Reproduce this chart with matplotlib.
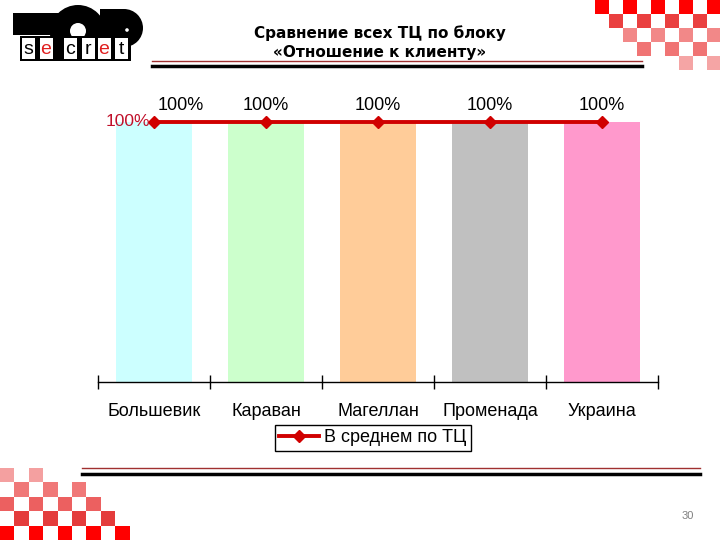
import numpy as np
import matplotlib.pyplot as plt
import matplotlib.patches as mpatches

plt.rcParams['font.family'] = ['Liberation Sans', 'DejaVu Sans']

categories = ['Большевик', 'Караван', 'Магеллан', 'Променада', 'Украина']
bar_values = [1.0, 1.0, 1.0, 1.0, 1.0]
avg_values = [1.0, 1.0, 1.0, 1.0, 1.0]
bar_colors = ['#CCFFFF', '#CCFFCC', '#FFCC99', '#C0C0C0', '#FF99CC']
title_lines = ['Сравнение всех ТЦ по блоку', '«Отношение к клиенту»']
legend_label = 'В среднем по ТЦ'
page_number = '30'

fig = plt.figure(figsize=(7.2, 5.4), dpi=100)

# decoration layer in pixel coords (y down)
deco = fig.add_axes([0, 0, 1, 1])
deco.set_xlim(0, 720)
deco.set_ylim(540, 0)
deco.axis('off')

def checker(x0, y0, size, rows):
    for r, cols, col in rows:
        for c in cols:
            deco.add_patch(mpatches.Rectangle((x0 + c * size, y0 + r * size), size, size,
                                              color=col, lw=0))

checker(595, 0, 14, [(0, [0, 2, 4, 6, 8], '#FF0000'),
                     (1, [1, 3, 5, 7], '#EA4040'),
                     (2, [2, 4, 6, 8], '#F28888'),
                     (3, [3, 5, 7], '#F07474'),
                     (4, [6, 8], '#F5A5A5')])
checker(0, 468, 14.4, [(0, [0, 2], '#F4A0A0'),
                       (1, [1, 3, 5], '#F07878'),
                       (2, [0, 2, 4, 6], '#EC6060'),
                       (3, [1, 3, 5, 7], '#E43C3C'),
                       (4, [0, 2, 4, 6, 8], '#FF0000')])

# separator lines
deco.plot([152, 642], [61, 61], color='#A03030', lw=1)
deco.plot([152, 642], [66, 66], color='black', lw=2.5)
deco.plot([82, 700], [468, 468], color='#A03030', lw=1)
deco.plot([82, 700], [474, 474], color='black', lw=2.5)

# logo
deco.add_patch(mpatches.Rectangle((13, 13), 55, 22, color='black', lw=0))
deco.add_patch(mpatches.Circle((78, 33), 28, color='black', lw=0))
deco.add_patch(mpatches.Circle((78, 31), 8, color='white', lw=0))
deco.add_patch(mpatches.Circle((124, 28), 19, color='black', lw=0))
deco.add_patch(mpatches.Rectangle((100, 9), 24, 30, color='black', lw=0))
deco.add_patch(mpatches.Rectangle((20, 36), 111, 25, color='black', lw=0))
deco.add_patch(mpatches.Circle((127, 30), 1.8, color='white', lw=0))
for lx, ch, col in [(28, 's', 'black'), (46, 'e', '#E02020'), (70, 'c', 'black'),
                    (88, 'r', 'black'), (104, 'e', '#E02020'), (121, 't', 'black')]:
    deco.add_patch(mpatches.Rectangle((lx - 6.5, 38), 13, 21, color='white', lw=0))
    deco.text(lx, 49, ch, ha='center', va='center', fontsize=14, color=col)

# title
for i, line in enumerate(title_lines):
    fig.text(380 / 720, 1 - (33 + 20 * i) / 540, line, ha='center', va='center',
             fontsize=11, fontweight='bold', family='DejaVu Sans')

fig.text(688 / 720, 1 - 516 / 540, page_number, ha='center', va='center',
         fontsize=8, color='#808080')

# chart
ax = fig.add_axes([98 / 720, (540 - 382) / 540, 560 / 720, 260 / 540])
x = np.arange(len(categories))
ax.bar(x, bar_values, width=0.67, color=bar_colors, zorder=1)
ax.plot(x, avg_values, color='#D00000', lw=2.8, marker='D', ms=6, zorder=3,
        clip_on=False, label=legend_label)
ax.set_xlim(-0.5, len(categories) - 0.5)
ax.set_ylim(0, 1)
for s in ['top', 'left', 'right']:
    ax.spines[s].set_visible(False)
ax.spines['bottom'].set_linewidth(1)
ax.set_yticks([])
ax.set_xticks(np.arange(-0.5, len(categories), 1))
ax.set_xticklabels([])
ax.tick_params(axis='x', which='major', direction='inout', length=10, width=1)
ax.set_xticks(x, minor=True)
ax.set_xticklabels(categories, minor=True, fontsize=13)
ax.tick_params(axis='x', which='minor', length=0, pad=15)
ax.patch.set_alpha(0)

for i, v in enumerate(bar_values):
    dx = 19 if i == 0 else 0
    ax.annotate(f'{v:.0%}', (x[i], v), xytext=(dx, 9), textcoords='offset points',
                ha='center', va='baseline', fontsize=13, annotation_clip=False)

ax.annotate(f'{avg_values[0]:.0%}', (x[0], avg_values[0]), xytext=(-3, 0),
            textcoords='offset points', ha='right', va='center', fontsize=12.5,
            color='#C0102A', annotation_clip=False)

leg = fig.legend(loc='center', bbox_to_anchor=(373 / 720, 1 - 438 / 540),
                 fontsize=13, frameon=True, fancybox=False, edgecolor='black',
                 framealpha=1, handlelength=2.2, borderpad=0.25, handletextpad=0.3)
leg.get_frame().set_linewidth(1)

fig.savefig('out.png', dpi=100)
